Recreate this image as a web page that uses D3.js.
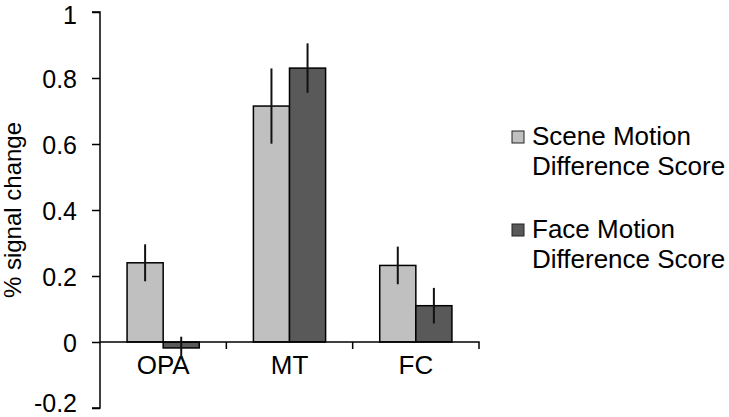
<!DOCTYPE html>
<html><head><meta charset="utf-8">
<script src="https://cdn.jsdelivr.net/npm/d3@7"></script>
<style>
html,body{margin:0;padding:0;background:#fff;}
svg text{font-family:"Liberation Sans",Arial,sans-serif;fill:#000;}
</style></head>
<body>
<svg id="chart" width="729" height="417"></svg>
<script>
const categories = ["OPA", "MT", "FC"];
const seriesNames = ["Scene Motion Difference Score", "Face Motion Difference Score"];
const legendLines = [["Scene Motion", "Difference Score"], ["Face Motion", "Difference Score"]];
const sceneValues = [0.24, 0.715, 0.232];
const sceneErrors = [0.056, 0.114, 0.057];
const faceValues = [-0.018, 0.83, 0.11];
const faceErrors = [0.034, 0.075, 0.054];
const yTicks = [-0.2, 0, 0.2, 0.4, 0.6, 0.8, 1];
const yTickLabels = ["-0.2", "0", "0.2", "0.4", "0.6", "0.8", "1"];
const colors = ["#c0c0c0", "#595959"];

const svg = d3.select("#chart");
const x0 = 100, x1 = 479;
const y = d3.scaleLinear().domain([-0.2, 1]).range([408, 12]);
const x = d3.scaleBand().domain(categories).range([x0, x1]).paddingInner(0).paddingOuter(0);
const sub = d3.scaleBand().domain([0, 1]).range([0, x.bandwidth()]).paddingInner(0).paddingOuter(0.75);

const series = [
  {vals: sceneValues, errs: sceneErrors},
  {vals: faceValues, errs: faceErrors}
];

// bars
series.forEach((s, si) => {
  const g = svg.append("g");
  g.selectAll("rect").data(categories).join("rect")
    .attr("x", (c) => x(c) + sub(si))
    .attr("width", sub.bandwidth())
    .attr("y", (c, i) => y(Math.max(0, s.vals[i])))
    .attr("height", (c, i) => Math.abs(y(s.vals[i]) - y(0)))
    .attr("fill", colors[si])
    .attr("stroke", "#000")
    .attr("stroke-width", 1.5);
});

// y axis
const yAxis = d3.axisLeft(y).tickValues(yTicks).tickFormat((d, i) => yTickLabels[i]).tickSize(8).tickPadding(15);
const ga = svg.append("g").attr("transform", `translate(${x0},0)`).call(yAxis);
ga.select(".domain").attr("stroke", "#000").attr("stroke-width", 1.5).attr("d", `M-8,${y(1)}H0V${y(-0.2)}H-8`);
ga.selectAll(".tick line").attr("stroke", "#000").attr("stroke-width", 1.5);
ga.selectAll(".tick text").style("font-size", "25px").attr("font-family", null)
  .attr("dy", (d) => d === -0.2 ? "0.14em" : (d === 1 ? "0.44em" : "0.36em"));

// x axis at zero
const xAxis = d3.axisBottom(x).tickSize(0).tickPadding(14);
const gx = svg.append("g").attr("transform", `translate(0,${y(0)})`).call(xAxis);
gx.select(".domain").attr("stroke", "#000").attr("stroke-width", 1.5).attr("d", `M${x0},0H${x1}V7`);
gx.selectAll(".tick text").style("font-size", "26px").attr("font-family", null).attr("dy", "0.71em");
// category boundary ticks
svg.append("g").selectAll("line").data(categories.slice(1)).join("line")
  .attr("x1", (c) => x(c)).attr("x2", (c) => x(c))
  .attr("y1", y(0)).attr("y2", y(0) + 7)
  .attr("stroke", "#000").attr("stroke-width", 1.5);

// error bars
series.forEach((s, si) => {
  svg.append("g").selectAll("line").data(categories).join("line")
    .attr("x1", (c) => x(c) + sub(si) + sub.bandwidth() / 2)
    .attr("x2", (c) => x(c) + sub(si) + sub.bandwidth() / 2)
    .attr("y1", (c, i) => y(s.vals[i] + s.errs[i]))
    .attr("y2", (c, i) => y(s.vals[i] - s.errs[i]))
    .attr("stroke", "#111").attr("stroke-width", 2);
});

// y title
svg.append("text")
  .attr("transform", "translate(21,210) rotate(-90)")
  .attr("text-anchor", "middle")
  .style("font-size", "24px")
  .text("% signal change");

// legend
const leg = svg.append("g");
const legTops = [131, 224];
seriesNames.forEach((n, i) => {
  leg.append("rect").attr("x", 512).attr("y", legTops[i]).attr("width", 12).attr("height", 12)
    .attr("fill", colors[i]).attr("stroke", "#222").attr("stroke-width", 1);
  legendLines[i].forEach((t, j) => {
    leg.append("text").attr("x", 532).attr("y", legTops[i] + 14 + j * 30)
      .style("font-size", "26px").text(t);
  });
});
</script>
</body></html>
